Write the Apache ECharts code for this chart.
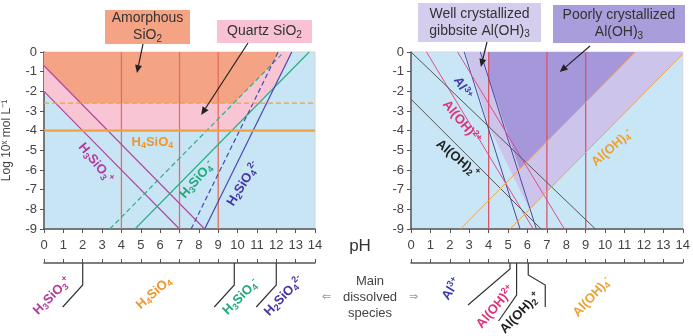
<!DOCTYPE html>
<html>
<head>
<meta charset="utf-8">
<script src="https://cdn.jsdelivr.net/npm/echarts@6/dist/echarts.min.js"></script>
<style>
  html, body { margin: 0; padding: 0; background: #fff; }
  #chart { width: 693px; height: 336px; }
</style>
</head>
<body>
<div id="chart"></div>
<script>
  /*----- data: pH on x, log concentration on y -----*/
  var siVerticals = [4, 7, 9];
  var alVerticals = [4, 7, 9];

  // silica species, amorphous (upper) and quartz (lower) solubility
  var h3sio3Amorph = [[0, -0.7], [8.3, -9]];
  var h3sio3Quartz = [[0, -2], [7, -9]];
  var h3sio4Amorph = [[3.4, -9], [12.4, 0]];
  var h3sio4Quartz = [[4.7, -9], [13.7, 0]];
  var h2sio4Amorph = [[7.6, -9], [12.1, 0]];
  var h2sio4Quartz = [[8.3, -9], [12.8, 0]];
  var h4sio4Amorph = [[0, -2.6], [14, -2.6]];
  var h4sio4Quartz = [[0, -4], [14, -4]];
  var amorphArea = [[0, 0], [0, -0.7], [1.9, -2.6], [9.8, -2.6], [11.8, -0.6], [12.1, 0]];
  var quartzArea = [[0, 0], [0, -2], [2, -4], [9.7, -4], [11.9, -1.8], [12.8, 0]];

  // aluminium species, poorly crystallized (upper) and gibbsite (lower)
  var al3Poorly = [[3.57, 0], [6.46, -9]];
  var al3Gibbsite = [[2.74, 0], [5.62, -9]];
  var aloh2Poorly = [[2.4, 0], [7.9, -9]];
  var aloh2Gibbsite = [[0.8, 0], [6.3, -9]];
  var aloh2pPoorly = [[0, 0], [9.5, -9]];
  var aloh2pGibbsite = [[0, -2.4], [6.7, -9]];
  var aloh4Poorly = [[2.55, -9], [11.55, 0]];
  var aloh4Gibbsite = [[5.1, -9], [14, -0.1]];
  var poorlyArea = [[4, 0], [4, -1.3], [5.6, -5.95], [11.55, 0]];
  var gibbsiteArea = [[2.8, 0], [4.1, -3.96], [6.1, -8], [14, -0.1], [14, 0]];

  // pH where the main dissolved species changes
  var siBreaks = [2, 9.83, 12];
  var alBreaks = [5.1, 5.44, 6.04];

  // _ = subscript, ^ = superscript
  var siSpecies = ['H_3SiO_3^+', 'H_4SiO_4', 'H_3SiO_4^-', 'H_2SiO_4^2-'];
  var alSpecies = ['Al^3+', 'Al(OH)^2+', 'Al(OH)_2^+', 'Al(OH)_4^-'];

  /*----- layout of labels -----*/
  var FONT = '"Liberation Sans", Arial, sans-serif';
  var C = {
    mag: '#b03c9c', org: '#f0952a', grn: '#1faa78', blu: '#4535a5',
    navy: '#3d3da8', pink: '#e0307a', blk: '#222', alorg: '#f0a030'
  };

  var siPlotLabels = [
    { ph: 5.6, log: -4.6, text: siSpecies[1], rot: 0, color: C.org },
    { ph: 2.67, log: -5.65, text: siSpecies[0], rot: -51, color: C.mag },
    { ph: 7.9, log: -6.5, text: siSpecies[2], rot: 49, color: C.grn },
    { ph: 10.3, log: -6.7, text: siSpecies[3], rot: 58, color: C.blu }
  ];
  var alPlotLabels = [
    { ph: 2.65, log: -1.83, text: alSpecies[0], rot: -60, color: C.navy },
    { ph: 2.6, log: -3.56, text: alSpecies[1], rot: -50, color: C.pink },
    { ph: 2.4, log: -5.43, text: alSpecies[2], rot: -40, color: C.blk },
    { ph: 10.35, log: -4.88, text: alSpecies[3], rot: 41, color: C.alorg }
  ];
  var siBottomLabels = [
    { ph: 0.42, dy: 67, text: siSpecies[0], rot: 45, color: C.mag },
    { ph: 5.68, dy: 64, text: siSpecies[1], rot: 41, color: C.org },
    { ph: 10.17, dy: 68, text: siSpecies[2], rot: 45, color: C.grn },
    { ph: 12.4, dy: 67, text: siSpecies[3], rot: 46, color: C.blu }
  ];
  var alBottomLabels = [
    { ph: 2.08, dy: 60, text: alSpecies[0], rot: 58, color: C.navy },
    { ph: 4.36, dy: 78, text: alSpecies[1], rot: 50, color: C.pink },
    { ph: 5.63, dy: 84, text: alSpecies[2], rot: 46, color: C.blk },
    { ph: 9.33, dy: 68, text: alSpecies[3], rot: 47, color: C.alorg }
  ];
  // connector shapes below the species axis, pixel offsets
  var siLinks = [
    [[0, 0], [0, 22], [-20, 44]],
    [[0, 0], [0, 22], [-20, 44]],
    [[0, 0], [0, 22], [-20, 44]]
  ];
  var alLinks = [
    [[0, 0], [0, 6], [-42, 42]],
    [[0, 0], [0, 32], [-18, 58]],
    [[0, 0], [0, 12], [17, 22], [17, 44]]
  ];

  var AXIS = '#555';
  var SPECIES_OFFSET = 34;

  // turn 'H_3SiO_3^+' into rich text tokens
  function chem(s) {
    var out = '';
    var re = /_([0-9]+)|\^([0-9]*[+\-])|([^_^\n]+)|(\n)/g, m;
    while ((m = re.exec(s)) !== null) {
      if (m[1]) out += '{s|' + m[1] + '}';
      else if (m[2]) out += '{p|' + m[2] + '}';
      else if (m[4]) out += '\n';
      else out += '{n|' + m[3] + '}';
    }
    return out;
  }
  function richOf(size, bold, color) {
    var w = bold ? 'bold' : 'normal';
    var small = Math.round(size * 0.7);
    return {
      n: { fontSize: size, fontWeight: w, fontFamily: FONT, fill: color, lineHeight: size + 3, verticalAlign: 'middle' },
      s: { fontSize: small, fontWeight: w, fontFamily: FONT, fill: color, lineHeight: size + 3, verticalAlign: 'bottom' },
      p: { fontSize: small, fontWeight: w, fontFamily: FONT, fill: color, lineHeight: size + 3, verticalAlign: 'top' }
    };
  }

  function xMain(g) {
    return {
      gridIndex: g, type: 'value', min: 0, max: 14, interval: 1,
      axisLine: { show: true, onZero: false, lineStyle: { color: AXIS, width: 1.5 } },
      axisTick: { show: true, length: 4, lineStyle: { color: AXIS } },
      axisLabel: { fontSize: 13, color: '#444', margin: 10, fontFamily: FONT },
      splitLine: { show: false }
    };
  }
  function xSpecies(g) {
    return {
      gridIndex: g, type: 'value', min: 0, max: 14, interval: 1,
      position: 'bottom', offset: SPECIES_OFFSET,
      axisLine: { show: true, onZero: false, lineStyle: { color: AXIS, width: 1.5 } },
      axisTick: { show: true, inside: true, length: 4, lineStyle: { color: AXIS } },
      axisLabel: { show: false }, splitLine: { show: false }
    };
  }
  function yAx(g, name) {
    return {
      gridIndex: g, type: 'value', min: -9, max: 0, interval: 1,
      name: name, nameLocation: 'middle', nameGap: 31,
      nameTextStyle: { fontSize: 12, color: '#444', fontFamily: FONT },
      axisLine: { show: true, onZero: false, lineStyle: { color: AXIS, width: 1.5 } },
      axisTick: { show: true, length: 4, lineStyle: { color: AXIS } },
      axisLabel: { fontSize: 13, color: '#444', margin: 7, fontFamily: FONT },
      splitLine: { show: false }
    };
  }

  function seg(g, pts, color, width, dashed, z) {
    return {
      type: 'line', xAxisIndex: g * 2, yAxisIndex: g, data: pts, symbol: 'none',
      silent: true, z: z || 3, animation: false,
      lineStyle: { color: color, width: width, type: dashed ? [5, 3] : 'solid' }
    };
  }
  function area(g, pts, color, z) {
    return {
      type: 'custom', xAxisIndex: g * 2, yAxisIndex: g, silent: true, z: z, clip: true,
      data: [pts[0]],
      renderItem: function (params, api) {
        return {
          type: 'polygon',
          shape: { points: pts.map(function (p) { return api.coord(p); }) },
          style: { fill: color }
        };
      }
    };
  }
  function texts(g, items) {
    return {
      type: 'custom', xAxisIndex: g * 2, yAxisIndex: g, silent: true, z: 6, clip: false,
      data: items.map(function (t) { return [t.ph, t.log == null ? -9 : t.log]; }),
      renderItem: function (params, api) {
        var t = items[params.dataIndex];
        var p = api.coord([api.value(0), api.value(1)]);
        return {
          type: 'text', x: p[0], y: p[1] + (t.dy || 0), rotation: t.rot * Math.PI / 180,
          style: {
            text: chem(t.text), rich: richOf(13, true, t.color),
            align: 'center', verticalAlign: 'middle'
          }
        };
      }
    };
  }
  function links(g, breaks, shapes) {
    return {
      type: 'custom', xAxisIndex: g * 2, yAxisIndex: g, silent: true, z: 6, clip: false,
      data: breaks.map(function (b) { return [b, -9]; }),
      renderItem: function (params, api) {
        var p = api.coord([api.value(0), api.value(1)]);
        var y0 = p[1] + SPECIES_OFFSET;
        return {
          type: 'polyline',
          shape: { points: shapes[params.dataIndex].map(function (o) { return [p[0] + o[0], y0 + o[1]]; }) },
          style: { stroke: '#333', lineWidth: 1.2, fill: null }
        };
      }
    };
  }

  var series = [
    area(0, quartzArea, '#f8c5d5', 1),
    area(0, amorphArea, '#f4a385', 2),
    area(1, gibbsiteArea, '#cdc4ec', 1),
    area(1, poorlyArea, '#a597d9', 2)
  ];
  siVerticals.forEach(function (v) { series.push(seg(0, [[v, 0], [v, -9]], '#e46f5c', 1.3)); });
  alVerticals.forEach(function (v) { series.push(seg(1, [[v, 0], [v, -9]], '#d8566a', 1.3)); });

  series.push(
    seg(0, h3sio3Amorph, '#b04a9e', 1.2), seg(0, h3sio3Quartz, '#b04a9e', 1.2),
    seg(0, h3sio4Amorph, '#2fae84', 1.2, true), seg(0, h3sio4Quartz, '#2fae84', 1.2),
    seg(0, h2sio4Amorph, '#4a48b0', 1.2, true), seg(0, h2sio4Quartz, '#4a48b0', 1.2),
    seg(0, h4sio4Amorph, '#f0a040', 1.2, true, 4), seg(0, h4sio4Quartz, '#f0a040', 2.2, false, 4),
    seg(1, al3Poorly, '#4a4aa0', 1), seg(1, al3Gibbsite, '#4a4aa0', 1),
    seg(1, aloh2Poorly, '#e04b8a', 1), seg(1, aloh2Gibbsite, '#e04b8a', 1),
    seg(1, aloh2pPoorly, '#555', 1), seg(1, aloh2pGibbsite, '#555', 1),
    seg(1, aloh4Poorly, '#f0a050', 1), seg(1, aloh4Gibbsite, '#f0a050', 1),
    texts(0, siPlotLabels), texts(1, alPlotLabels),
    texts(0, siBottomLabels), texts(1, alBottomLabels),
    links(0, siBreaks, siLinks), links(1, alBreaks, alLinks)
  );

  var chart = echarts.init(document.getElementById('chart'));
  chart.setOption({
    animation: false,
    grid: [
      { left: 41, top: 52, width: 274, height: 177, show: true, backgroundColor: '#c8e5f5', borderColor: '#d4d4d4', borderWidth: 1 },
      { left: 411, top: 52, width: 276, height: 177, show: true, backgroundColor: '#c9e6f6', borderColor: '#d4d4d4', borderWidth: 1 }
    ],
    xAxis: [xMain(0), xSpecies(0), xMain(1), xSpecies(1)],
    yAxis: [yAx(0, 'Log 10ˣ mol L⁻¹'), yAx(1, '')],
    series: series
  });

  /*----- boxes, arrows and middle captions -----*/
  function box(x, y, w, h, fill, text) {
    return [
      { type: 'rect', z: 10, shape: { x: x, y: y, width: w, height: h }, style: { fill: fill } },
      { type: 'text', z: 11, x: x + w / 2, y: y + h / 2,
        style: { text: chem(text), rich: richOf(14, false, '#333'), align: 'center', verticalAlign: 'middle' } }
    ];
  }
  function arrow(from, g, target) {
    var to = chart.convertToPixel({ gridIndex: g }, target);
    var a = Math.atan2(to[1] - from[1], to[0] - from[0]);
    var h = 8, w = 3.5;
    var bx = to[0] - h * Math.cos(a), by = to[1] - h * Math.sin(a);
    return [
      { type: 'line', z: 12, shape: { x1: from[0], y1: from[1], x2: bx, y2: by }, style: { stroke: '#222', lineWidth: 1.2 } },
      { type: 'polygon', z: 12, shape: { points: [[to[0], to[1]],
        [bx - w * Math.sin(a), by + w * Math.cos(a)], [bx + w * Math.sin(a), by - w * Math.cos(a)]] },
        style: { fill: '#222' } }
    ];
  }

  var graphics = [].concat(
    box(105, 10, 85, 34, '#f4a385', 'Amorphous\nSiO_2'),
    box(217, 20, 95, 23, '#f8c2d4', 'Quartz SiO_2'),
    box(418, 3, 123, 39, '#d4cdee', 'Well crystallized\ngibbsite Al(OH)_3'),
    box(553, 5, 132, 38, '#a99ddb', 'Poorly crystallized\nAl(OH)_3'),
    arrow([143, 44], 0, [4.8, -1.07]),
    arrow([248, 43], 0, [8.12, -3.2]),
    arrow([487, 42], 1, [3.6, -0.76]),
    arrow([590, 46], 1, [7.66, -1.02]),
    [
      { type: 'text', x: 360, y: 246, style: { text: 'pH', align: 'center', verticalAlign: 'middle', font: '17px ' + FONT, fill: '#333' } },
      { type: 'text', x: 370, y: 297, style: { text: 'Main\ndissolved\nspecies', align: 'center', verticalAlign: 'middle', font: '13px ' + FONT, fill: '#444', lineHeight: 16 } },
      { type: 'text', x: 326, y: 297, style: { text: '⇐', align: 'center', verticalAlign: 'middle', font: '11px ' + FONT, fill: '#999' } },
      { type: 'text', x: 413, y: 297, style: { text: '⇒', align: 'center', verticalAlign: 'middle', font: '11px ' + FONT, fill: '#999' } }
    ]
  );
  chart.setOption({ graphic: graphics });
</script>
</body>
</html>
